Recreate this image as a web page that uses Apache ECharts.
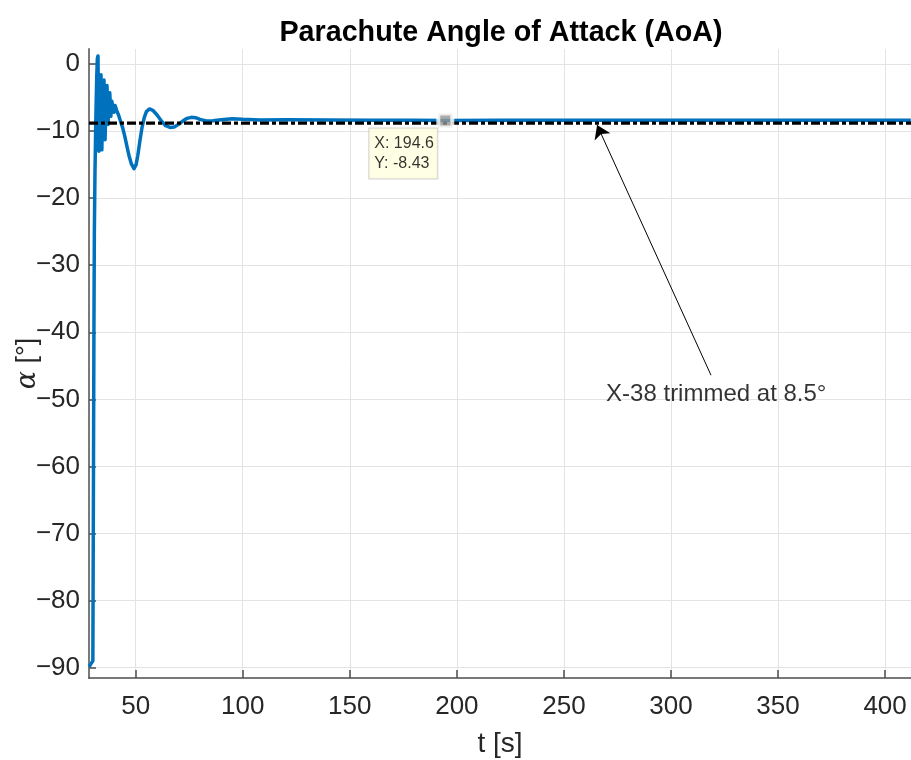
<!DOCTYPE html>
<html>
<head>
<meta charset="utf-8">
<title>Parachute Angle of Attack (AoA)</title>
<script src="https://cdn.jsdelivr.net/npm/echarts@6/dist/echarts.min.js"></script>
<style>
  html, body { margin: 0; padding: 0; background: #ffffff; }
  #chart { width: 911px; height: 760px; }
</style>
</head>
<body>
<div id="chart"></div>
<script>
// Simulation time [s]
const timeS = [
  28.3, 28.8, 30.0, 30.1, 30.3, 30.5, 30.7, 31.0, 31.4, 31.8, 32.1, 32.4,
  32.8, 33.3, 33.8, 34.2, 34.7, 35.2, 35.7, 36.2, 36.6, 37.1, 37.5, 37.9,
  38.4, 38.8, 39.4, 39.9, 40.4, 41.1, 42.0, 43.0, 44.0, 45.0, 46.0, 47.0,
  48.0, 49.2, 50.2, 51.0, 52.0, 53.0, 54.0, 55.0, 56.5, 58.0, 60.0, 62.0,
  64.0, 66.0, 68.0, 70.0, 72.0, 74.0, 76.0, 78.0, 80.0, 83.0, 86.0, 90.0,
  95.0, 100.0, 108.0, 120.0, 140.0, 160.0, 180.0, 194.6, 220.0, 260.0, 300.0,
  350.0, 412.0
];
// Parachute angle of attack [deg]
const alphaDeg = [
  -89.9, -89.6, -89.0, -80.0, -60.0, -40.0, -25.0, -16.0, -8.0, -2.0, 0.8, 1.2,
  -13.0, -5.0, -1.6, -12.8, -5.0, -2.4, -11.3, -5.0, -3.2, -9.0, -5.5, -4.3,
  -7.8, -5.5, -5.6, -7.2, -6.2, -6.9, -7.6, -8.6, -9.6, -10.9, -12.4, -13.8,
  -14.9, -15.6, -15.0, -13.6, -11.4, -9.4, -8.0, -7.1, -6.7, -6.9, -7.6, -8.5,
  -9.2, -9.45, -9.4, -9.0, -8.5, -8.1, -7.95, -8.0, -8.25, -8.5, -8.45, -8.3,
  -8.15, -8.25, -8.35, -8.3, -8.35, -8.4, -8.4, -8.43, -8.4, -8.4, -8.4,
  -8.4, -8.4
];
// Trimmed reference level of the vehicle [deg]
const trimLevel = -8.8;

const xTicks = [50, 100, 150, 200, 250, 300, 350, 400];
const yTicks = [0, -10, -20, -30, -40, -50, -60, -70, -80, -90];
const xRange = [28.2, 412.1];
const yRange = [-91.55, 2.24];

// Data cursor readout
const tipPoint = [194.6, -8.43];
// Annotation arrow (tail, head) and its note
const arrowTail = [318.7, -46.4];
const arrowHead = [265.5, -9.1];
const notePoint = [269.7, -49.2];
const noteText = 'X-38 trimmed at 8.5°';

const FONT = '"Liberation Sans", Arial, Helvetica, sans-serif';
const AXIS_COLOR = '#4d4d4d';
const GRID_COLOR = '#e3e3e3';
const TEXT_COLOR = '#262626';

// Tick labels use a true minus sign
const fmtTick = (v) => String(v).replace('-', '\u2212');

const lineData = timeS.map((t, i) => [t, alphaDeg[i]]);

const chart = echarts.init(document.getElementById('chart'), null, { renderer: 'canvas' });

chart.setOption({
  animation: false,
  backgroundColor: '#ffffff',
  title: {
    text: 'Parachute Angle of Attack (AoA)',
    left: 496,
    top: 14,
    textAlign: 'center',
    textStyle: { fontFamily: FONT, fontSize: 28.7, fontWeight: 'bold', color: '#000000' }
  },
  grid: { left: 89, right: 0, top: 49, bottom: 82, containLabel: false, outerBoundsMode: 'none' },
  xAxis: {
    type: 'value',
    min: xRange[0],
    max: xRange[1],
    name: 't [s]',
    nameLocation: 'middle',
    nameGap: 52,
    nameMoveOverlap: false,
    nameTextStyle: { fontFamily: FONT, fontSize: 28, color: TEXT_COLOR },
    axisLine: { show: true, onZero: false, lineStyle: { color: AXIS_COLOR, width: 1.5 } },
    axisTick: { show: true, inside: true, length: 8, customValues: xTicks, lineStyle: { color: AXIS_COLOR, width: 1.5 } },
    axisLabel: { customValues: xTicks, formatter: fmtTick, fontFamily: FONT, fontSize: 26, color: TEXT_COLOR, margin: 16 },
    splitLine: { show: true, lineStyle: { color: GRID_COLOR, width: 1 } }
  },
  yAxis: {
    type: 'value',
    min: yRange[0],
    max: yRange[1],
    name: '{g|α} [°]',
    nameLocation: 'middle',
    nameRotate: 90,
    nameGap: 48,
    nameMoveOverlap: false,
    nameTextStyle: {
      fontFamily: FONT, fontSize: 27, color: TEXT_COLOR,
      rich: { g: { fontFamily: '"DejaVu Serif", serif', fontStyle: 'italic', fontSize: 27, color: TEXT_COLOR } }
    },
    axisLine: { show: true, onZero: false, lineStyle: { color: '#7a7a7a', width: 2 } },
    axisTick: { show: true, inside: true, length: 7, customValues: yTicks, lineStyle: { color: AXIS_COLOR, width: 1.5 } },
    axisLabel: { customValues: yTicks, formatter: fmtTick, fontFamily: FONT, fontSize: 26, color: TEXT_COLOR, margin: 9 },
    splitLine: { show: true, lineStyle: { color: GRID_COLOR, width: 1 } }
  },
  series: [
    {
      name: 'AoA',
      type: 'line',
      data: lineData,
      showSymbol: false,
      symbol: 'none',
      clip: true,
      z: 2,
      lineStyle: { color: '#0072bd', width: 3.5, join: 'round' }
    },
    {
      name: 'Trim',
      type: 'line',
      data: [[xRange[0], trimLevel], [xRange[1], trimLevel]],
      showSymbol: false,
      symbol: 'none',
      z: 3,
      lineStyle: { color: '#000000', width: 3.2, type: [9, 3, 4, 3] },
      markLine: {
        silent: true,
        symbol: ['none', 'arrow'],
        symbolSize: 13,
        label: { show: false },
        lineStyle: { color: '#000000', width: 1, type: 'solid' },
        data: [[{ coord: arrowTail }, { coord: arrowHead }]]
      }
    },
    {
      name: 'Note',
      type: 'scatter',
      data: [notePoint],
      symbolSize: 1,
      itemStyle: { color: 'rgba(0,0,0,0)' },
      z: 4,
      label: {
        show: true,
        position: 'inside',
        align: 'left',
        verticalAlign: 'middle',
        formatter: () => noteText,
        fontFamily: FONT,
        fontSize: 24,
        color: '#000000'
      }
    },
    {
      name: 'Cursor',
      type: 'scatter',
      data: [tipPoint],
      symbol: 'rect',
      symbolSize: 14,
      z: 5,
      itemStyle: { color: '#969696', borderColor: '#ffffff', borderWidth: 4 },
      label: {
        show: true,
        position: [-67, 17],
        align: 'left',
        verticalAlign: 'top',
        formatter: (p) => 'X: ' + p.value[0].toFixed(1) + '\nY: ' + p.value[1].toFixed(2),
        fontFamily: FONT,
        fontSize: 16,
        lineHeight: 20,
        color: '#000000',
        backgroundColor: '#ffffe0',
        borderColor: '#c8c8c8',
        borderWidth: 1,
        padding: [5, 5, 5, 5],
        width: 58
      }
    }
  ]
});
</script>
</body>
</html>
